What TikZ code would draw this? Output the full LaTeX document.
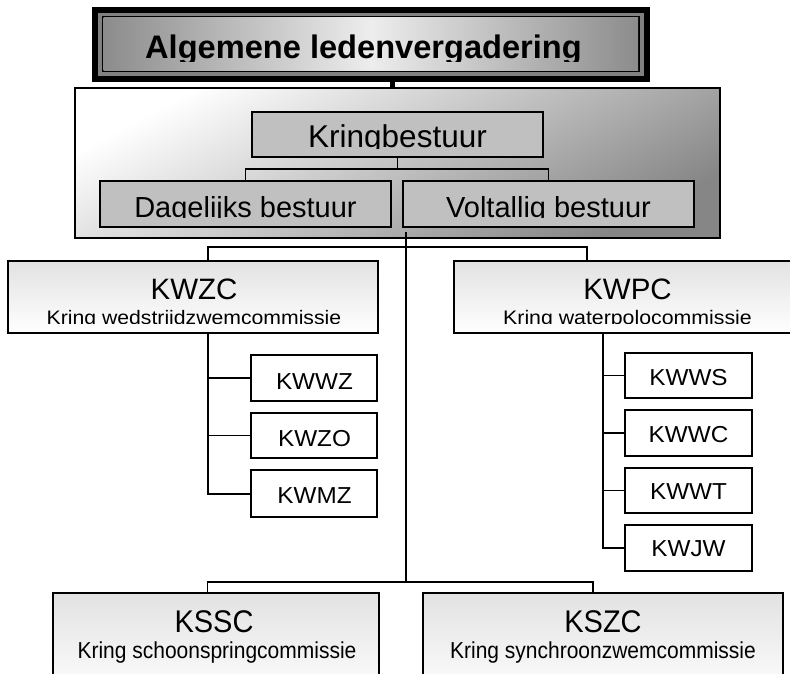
\documentclass[tikz,border=0pt]{standalone}
\usepackage{fontspec}
\setmainfont{Liberation Sans}
\usepackage{graphicx}
\usetikzlibrary{calc}
\definecolor{silverfill}{HTML}{C0C0C0}
\definecolor{commtop}{HTML}{E2E2E2}
\definecolor{alvedge}{HTML}{8C8C8C}
\definecolor{alvmid}{HTML}{EDEDED}
\definecolor{alvband}{HTML}{808080}
\definecolor{kbtop}{HTML}{FFFFFF}
\definecolor{kbmid}{HTML}{DCDCDC}
\definecolor{kbbot}{HTML}{868686}
\newcommand\setfs[1]{\fontsize{#1}{#1}\selectfont}
\newcommand\vscale[2]{\scalebox{1}[#1]{#2}}
% box: name, style, x1, y1, x2, y2
\newcommand\orgbox[6]{\node[#2, anchor=north west, inner sep=0pt, outer sep=0pt,
  minimum width={#5-#3}, minimum height={#6-#4}] (#1) at (#3,#4) {};}
% clipped text: name, x, baseline, clip x1, clip x2, clip y1, clip y2, content
\newcommand\boxtext[8]{\begin{scope}\clip (#4,#6) rectangle (#5,#7);
  \node[txt] (#1) at (#2,#3) {#8};\end{scope}}
\tikzset{
  txt/.style={anchor=base, inner sep=0pt, outer sep=0pt},
  conn/.style={draw=black, line width=1.6pt},
  trunkconn/.style={draw=black, line width=2pt},
  alvconn/.style={draw=black, line width=5pt},
  grouped/.style={draw=black, line width=1.5pt, top color=kbtop, middle color=kbmid, bottom color=kbbot, shading angle=28},
  silverbox/.style={draw=black, line width=1.4pt, fill=silverfill},
  commbox/.style={draw=black, line width=1.8pt, top color=commtop, bottom color=white},
  subbox/.style={draw=black, line width=1.8pt, fill=white},
  alvframe/.style={fill=black},
}
\begin{document}
\begin{tikzpicture}[x=1pt,y=-1pt]
\useasboundingbox (0,0) rectangle (790,673);
\clip (0,0) rectangle (790,673);
\fill[white] (0,0) rectangle (790,673);

% Algemene ledenvergadering
\orgbox{alv}{alvframe}{91.5}{7}{650}{82}
\fill[alvband] (98,13) rectangle (643.5,76);
\fill[black] (102,16.3) rectangle (639.5,72);
\shade[left color=alvedge, right color=alvedge, middle color=alvmid] (103.5,17.6) rectangle (638,70.7);

% Group box
\orgbox{kb}{grouped}{75}{88}{720}{238}
\orgbox{kring}{silverbox}{252}{112}{543}{157}
\orgbox{dag}{silverbox}{100}{181}{391}{227}
\orgbox{vol}{silverbox}{403}{181}{694}{227}

% Commissions
\orgbox{kwzc}{commbox}{8}{261}{378}{333}
\orgbox{kwpc}{commbox}{454}{261}{796}{333}
\orgbox{kssc}{commbox}{53}{593}{379}{700}
\orgbox{kszc}{commbox}{423}{593}{783}{700}

% Sub-commissions
\orgbox{kwwz}{subbox}{251}{355}{377}{401}
\orgbox{kwzo}{subbox}{251}{413}{377}{458}
\orgbox{kwmz}{subbox}{251}{470}{377}{517}
\orgbox{kwws}{subbox}{625}{353}{752}{398}
\orgbox{kwwc}{subbox}{625}{410}{752}{456}
\orgbox{kwwt}{subbox}{625}{468}{752}{513}
\orgbox{kwjw}{subbox}{625}{525}{752}{571}

% Connector coordinates
\coordinate (alvout) at (392,82);
\coordinate (kj) at (397.5,169);
\coordinate (t0) at (405.5,232);
\coordinate (t1) at (405.5,247);
\coordinate (t2) at (405.5,582);
\coordinate (kwzcin) at (208,261);
\coordinate (kwpcin) at (587,261);
\coordinate (ksscin) at (207.5,593);
\coordinate (kszcin) at (593,593);
\coordinate (kwzcout) at (207.5,333);
\coordinate (kwpcout) at (603,333);

% Connectors
\draw[alvconn] (alvout) -- (alvout |- kb.north);
\draw[conn] (kring.south) -- (kj);
\draw[conn] (dag.north) |- (kj) -| (vol.north);
\draw[trunkconn] (t0) -- (t2);
\draw[conn] (kwzcin) |- (t1) -| (kwpcin);
\draw[conn] (ksscin) |- (t2) -| (kszcin);
\draw[trunkconn] (kwzcout) |- (kwmz.west);
\draw[conn] (kwwz.west) -- (kwwz.west -| kwzcout);
\draw[conn] (kwzo.west) -- (kwzo.west -| kwzcout);
\draw[trunkconn] (kwpcout) |- (kwjw.west);
\draw[conn] (kwws.west) -- (kwws.west -| kwpcout);
\draw[conn] (kwwc.west) -- (kwwc.west -| kwpcout);
\draw[conn] (kwwt.west) -- (kwwt.west -| kwpcout);

% Texts
\boxtext{alvtxt}{363.5}{58}{104}{637}{17}{61}{\setfs{32.6}\bfseries Algemene ledenvergadering}
\boxtext{kringtxt}{397.5}{147.5}{253}{542}{113}{148}{\setfs{31.5}Kringbestuur}
\boxtext{dagtxt}{245.5}{217}{101}{390}{182}{217.5}{\setfs{29}Dagelijks bestuur}
\boxtext{voltxt}{548.5}{217}{404}{693}{182}{217.5}{\setfs{29}Voltallig bestuur}

\node[txt] (kwzct) at (194,299.5) {\setfs{29.5}KWZC};
\boxtext{kwzcs}{194}{324}{9}{377}{305}{323.5}{\setfs{21.2}\vscale{0.92}{Kring wedstrijdzwemcommissie}}
\node[txt] (kwpct) at (627.5,299.5) {\setfs{29.5}KWPC};
\boxtext{kwpcs}{627.5}{324}{455}{790}{305}{323.5}{\setfs{21.3}\vscale{0.92}{Kring waterpolocommissie}}

\node[txt] (ksst) at (214,632) {\setfs{29}\vscale{1.08}{KSSC}};
\node[txt] (ksss) at (217,658) {\setfs{21}\vscale{1.1}{Kring schoonspringcommissie}};
\node[txt] (kszt) at (603,632) {\setfs{29}\vscale{1.08}{KSZC}};
\node[txt] (kszs) at (603,658) {\setfs{21}\vscale{1.1}{Kring synchroonzwemcommissie}};

\node[txt] (kwwzt) at (314.5,389) {\setfs{24.3}\vscale{0.95}{KWWZ}};
\node[txt] (kwzot) at (314.5,446) {\setfs{24.3}\vscale{0.95}{KWZO}};
\node[txt] (kwmzt) at (314.5,503) {\setfs{24.3}\vscale{0.95}{KWMZ}};
\node[txt] (kwwst) at (688.5,385) {\setfs{24.3}\vscale{0.95}{KWWS}};
\node[txt] (kwwct) at (688.5,442) {\setfs{24.3}\vscale{0.95}{KWWC}};
\node[txt] (kwwtt) at (688.5,499) {\setfs{24.3}\vscale{0.95}{KWWT}};
\node[txt] (kwjwt) at (688.5,556) {\setfs{24.3}\vscale{0.95}{KWJW}};
\end{tikzpicture}
\end{document}
